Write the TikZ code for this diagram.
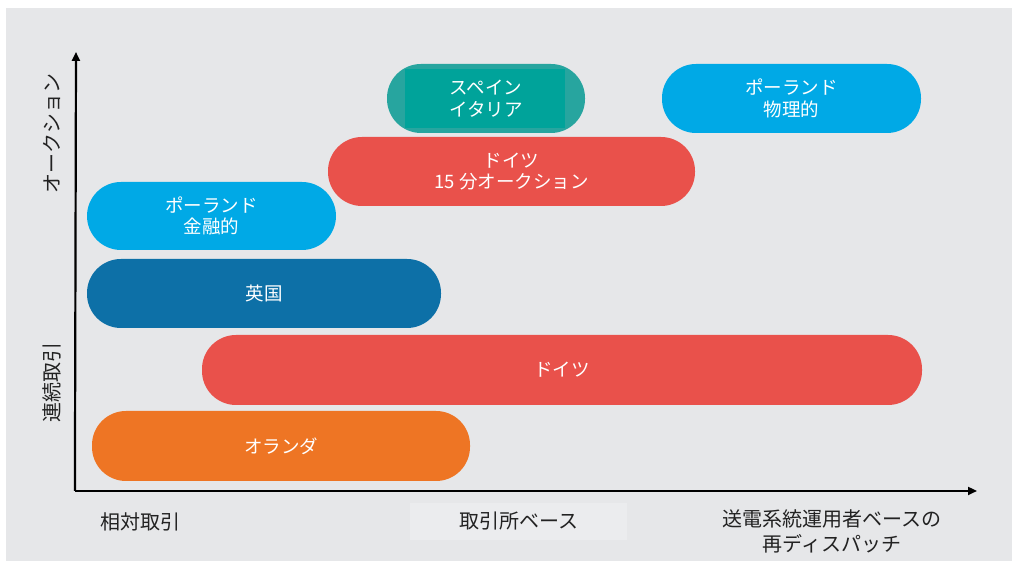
\documentclass[tikz,border=0pt]{standalone}
\usepackage{fontspec}
\setmainfont{Noto Sans CJK JP}
\usetikzlibrary{arrows.meta}
\definecolor{bg}{HTML}{E6E7E9}
\definecolor{lbox}{HTML}{EBECEE}
\definecolor{tealo}{HTML}{27A59F}
\definecolor{teali}{HTML}{00A39A}
\definecolor{cyanb}{HTML}{00A9E6}
\definecolor{redb}{HTML}{E9514B}
\definecolor{blueb}{HTML}{0D70A7}
\definecolor{orangeb}{HTML}{EE7524}
\definecolor{axtext}{HTML}{222222}
\tikzset{
  bar/.style={draw=none, rounded corners=34pt, minimum height=69pt, inner sep=0pt,
    text=white, font=\fontsize{18.5}{21.5}\selectfont, align=center},
  axlabel/.style={text=axtext, font=\fontsize{20}{25}\selectfont, align=center, inner sep=0pt},
  axis/.style={line width=2.2pt, draw=black, -{Triangle[length=9pt,width=8pt]}}
}
\begin{document}
\begin{tikzpicture}[x=1pt,y=1pt]
\useasboundingbox (0,0) rectangle (1012,561);
\fill[bg] (6,0) rectangle (1012,553);
% label box
\fill[lbox] (410,21) rectangle (627,58);
% bars
\node[bar, fill=tealo, minimum width=198pt] (spo) at (486,462.5) {};
\node[draw=none, fill=teali, minimum width=160pt, minimum height=59pt, inner sep=0pt] (spi) at (485,462.5) {};
\node[bar, minimum width=198pt] (sp) at (486,462.5) {スペイン\\イタリア};
\node[bar, fill=cyanb, minimum width=259pt] (plp) at (791.5,462.5) {ポーランド\\物理的};
\node[bar, fill=redb, minimum width=367pt] (de15) at (511.5,389.5) {ドイツ\\15 分オークション};
\node[bar, fill=cyanb, minimum width=249pt, minimum height=68pt] (plf) at (211.5,345) {ポーランド\\金融的};
\node[bar, fill=blueb, minimum width=354pt] (uk) at (264,267.5) {英国};
\node[bar, fill=redb, minimum width=720pt, minimum height=70pt] (de) at (562,191) {ドイツ};
\node[bar, fill=orangeb, minimum width=378pt, minimum height=70pt] (nl) at (281,115) {オランダ};
% axes
\coordinate (o) at (76,70);
\coordinate (ytop) at (76,509);
\coordinate (xend) at (977,70);
\draw[axis] ([xshift=-1.1pt]o) -- (ytop);
\draw[axis] ([xshift=-1.1pt]o) -- (xend);
% axis labels
\node[axlabel] (xl1) at (140,39) {相対取引};
\node[axlabel] (xl2) at (519,40) {取引所ベース};
\node[axlabel] (xl3) at (832,30) {送電系統運用者ベースの\\再ディスパッチ};
\node[axlabel, rotate=90] (yl1) at (52,427) {オークション};
\node[axlabel, rotate=90] (yl2) at (52,178) {連続取引};
\end{tikzpicture}
\end{document}
